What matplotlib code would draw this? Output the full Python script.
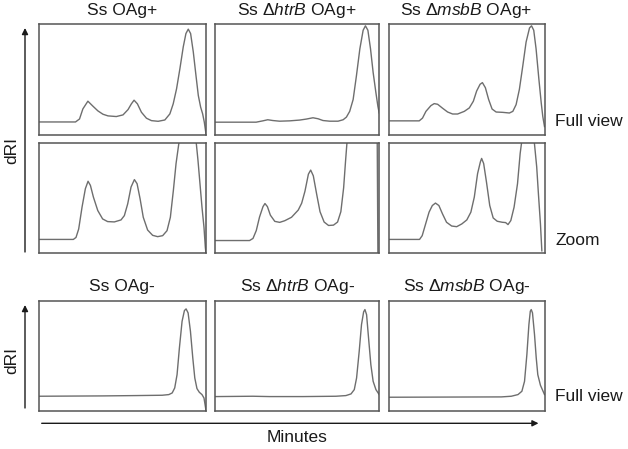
import matplotlib
matplotlib.use("Agg")
import matplotlib.pyplot as plt
from matplotlib.patches import FancyArrowPatch

plt.rcParams['font.family'] = ['Liberation Sans', 'DejaVu Sans']
plt.rcParams['mathtext.fontset'] = 'custom'
plt.rcParams['mathtext.rm'] = 'Liberation Sans'
plt.rcParams['mathtext.it'] = 'Liberation Sans:italic'

# traces: x = elution time (fraction of window), y = dRI (fraction of panel)
# OAg+ full view
ss_full_x = [0, 0.22, 0.244, 0.264, 0.294, 0.324, 0.354, 0.384, 0.414, 0.464, 0.504, 0.534, 0.554, 0.57,
             0.59, 0.614, 0.644, 0.674, 0.714, 0.754, 0.784, 0.804, 0.824, 0.844, 0.864, 0.88, 0.894,
             0.908, 0.924, 0.94, 0.954, 0.968, 0.98, 0.99, 1.0]
ss_full_y = [0.118, 0.118, 0.145, 0.236, 0.306, 0.261, 0.218, 0.188, 0.173, 0.167, 0.182, 0.23, 0.282, 0.315,
             0.282, 0.206, 0.152, 0.13, 0.124, 0.136, 0.191, 0.282, 0.418, 0.6, 0.797, 0.918, 0.958,
             0.918, 0.752, 0.539, 0.358, 0.252, 0.191, 0.115, 0.009]

htrb_full_x = [0, 0.249, 0.29, 0.32, 0.351, 0.392, 0.453, 0.514, 0.555, 0.596, 0.627, 0.657, 0.698, 0.749,
               0.78, 0.8, 0.82, 0.841, 0.861, 0.882, 0.902, 0.916, 0.931, 0.947, 0.963, 0.98, 0.992, 1.0]
htrb_full_y = [0.116, 0.116, 0.128, 0.138, 0.131, 0.125, 0.128, 0.135, 0.144, 0.156, 0.147, 0.131, 0.125, 0.125,
               0.138, 0.162, 0.214, 0.321, 0.535, 0.78, 0.948, 0.988, 0.948, 0.78, 0.566, 0.382, 0.26, 0.199]

msbb_full_x = [0, 0.197, 0.218, 0.24, 0.272, 0.293, 0.315, 0.347, 0.379, 0.411, 0.443, 0.486, 0.518, 0.544,
               0.565, 0.587, 0.602, 0.621, 0.642, 0.664, 0.69, 0.732, 0.775, 0.797, 0.818, 0.839, 0.861,
               0.882, 0.904, 0.917, 0.931, 0.946, 0.964, 0.979, 0.989, 1.0]
msbb_full_y = [0.128, 0.128, 0.153, 0.214, 0.266, 0.284, 0.278, 0.242, 0.208, 0.19, 0.19, 0.214, 0.245, 0.306,
               0.398, 0.459, 0.474, 0.428, 0.321, 0.235, 0.208, 0.205, 0.199, 0.214, 0.275, 0.413, 0.627,
               0.841, 0.969, 0.988, 0.948, 0.78, 0.505, 0.291, 0.168, 0.076]

# OAg+ zoom
ss_zoom_x = [0, 0.207, 0.223, 0.239, 0.259, 0.279, 0.295, 0.309, 0.327, 0.353, 0.382, 0.412, 0.452, 0.492,
             0.512, 0.532, 0.552, 0.572, 0.588, 0.606, 0.625, 0.651, 0.681, 0.711, 0.741, 0.767, 0.787,
             0.805, 0.821, 0.841, 0.89, 0.94, 0.952, 0.964, 0.976, 0.988, 0.996, 1.0]
ss_zoom_y = [0.127, 0.127, 0.145, 0.221, 0.418, 0.585, 0.652, 0.615, 0.509, 0.388, 0.312, 0.288, 0.285, 0.303,
             0.342, 0.448, 0.6, 0.667, 0.63, 0.494, 0.327, 0.212, 0.164, 0.152, 0.161, 0.206, 0.327,
             0.57, 0.812, 1.03, 2.4, 1.024, 0.842, 0.63, 0.418, 0.236, 0.055, 0.0]

htrb_zoom_x = [0, 0.209, 0.23, 0.25, 0.27, 0.291, 0.303, 0.318, 0.336, 0.363, 0.393, 0.424, 0.465, 0.506,
               0.527, 0.547, 0.568, 0.582, 0.598, 0.619, 0.639, 0.664, 0.691, 0.721, 0.746, 0.766, 0.783,
               0.795, 0.803, 0.807, 0.9, 0.982, 0.988, 0.992]
htrb_zoom_y = [0.117, 0.117, 0.136, 0.207, 0.33, 0.423, 0.451, 0.423, 0.346, 0.29, 0.281, 0.296, 0.327, 0.392,
               0.454, 0.562, 0.716, 0.753, 0.701, 0.531, 0.377, 0.284, 0.253, 0.256, 0.284, 0.377, 0.593,
               0.84, 0.994, 1.1, 2.2, 1.1, 0.994, 0.006]

msbb_zoom_x = [0, 0.199, 0.216, 0.238, 0.26, 0.281, 0.301, 0.323, 0.346, 0.372, 0.405, 0.437, 0.47, 0.502,
               0.528, 0.55, 0.571, 0.589, 0.597, 0.61, 0.628, 0.649, 0.671, 0.697, 0.729, 0.751, 0.766,
               0.784, 0.805, 0.827, 0.844, 0.853, 0.9, 0.935, 0.95, 0.961, 0.974, 0.983]
msbb_zoom_y = [0.127, 0.127, 0.161, 0.267, 0.373, 0.433, 0.455, 0.433, 0.358, 0.282, 0.248, 0.242, 0.267, 0.303,
               0.373, 0.509, 0.721, 0.827, 0.858, 0.812, 0.645, 0.433, 0.321, 0.291, 0.282, 0.279, 0.261,
               0.297, 0.418, 0.63, 0.903, 1.0, 2.4, 1.0, 0.782, 0.539, 0.267, 0.024]

# OAg- full view
ss_neg_x = [0, 0.381, 0.579, 0.738, 0.778, 0.798, 0.813, 0.827, 0.841, 0.857, 0.871, 0.881, 0.893, 0.907,
            0.921, 0.933, 0.946, 0.96, 0.976, 0.988, 0.996, 1.0]
ss_neg_y = [0.136, 0.139, 0.142, 0.145, 0.151, 0.166, 0.211, 0.331, 0.572, 0.813, 0.91, 0.925, 0.889, 0.723,
            0.482, 0.301, 0.205, 0.172, 0.151, 0.12, 0.045, 0.006]

htrb_neg_x = [0, 0.229, 0.331, 0.533, 0.736, 0.797, 0.828, 0.848, 0.862, 0.878, 0.892, 0.905, 0.913, 0.923,
              0.935, 0.949, 0.963, 0.98, 1.0]
htrb_neg_y = [0.133, 0.136, 0.133, 0.133, 0.136, 0.142, 0.157, 0.196, 0.301, 0.542, 0.783, 0.898, 0.919, 0.873,
              0.663, 0.422, 0.271, 0.196, 0.151]

msbb_neg_x = [0, 0.723, 0.787, 0.83, 0.855, 0.872, 0.887, 0.9, 0.909, 0.915, 0.923, 0.936, 0.947, 0.957,
              0.974, 0.989, 1.0]
msbb_neg_y = [0.127, 0.13, 0.136, 0.151, 0.181, 0.271, 0.512, 0.783, 0.904, 0.919, 0.889, 0.693, 0.482, 0.331,
              0.235, 0.187, 0.151]

titles_pos = ['Ss OAg+', r'Ss Δ$\mathit{htrB}$ OAg+', r'Ss Δ$\mathit{msbB}$ OAg+']
titles_neg = ['Ss OAg-', r'Ss Δ$\mathit{htrB}$ OAg-', r'Ss Δ$\mathit{msbB}$ OAg-']

rows = [
    [(ss_full_x, ss_full_y), (htrb_full_x, htrb_full_y), (msbb_full_x, msbb_full_y)],
    [(ss_zoom_x, ss_zoom_y), (htrb_zoom_x, htrb_zoom_y), (msbb_zoom_x, msbb_zoom_y)],
    [(ss_neg_x, ss_neg_y), (htrb_neg_x, htrb_neg_y), (msbb_neg_x, msbb_neg_y)],
]

W, H = 628, 449
fig = plt.figure(figsize=(W / 100, H / 100), dpi=100)

# panel boxes in pixels (left, right) and (top, bottom), measured from the top left
cols_px = [(38.7, 206.0), (215.3, 379.2), (388.5, 544.5)]
rows_px = [(24.5, 135.0), (142.7, 253.5), (300.6, 411.3)]


def px_axes(x0, x1, y0, y1):
    return fig.add_axes([x0 / W, 1 - y1 / H, (x1 - x0) / W, (y1 - y0) / H])


for r, row in enumerate(rows):
    for c, (xs, ys) in enumerate(row):
        ax = px_axes(cols_px[c][0], cols_px[c][1], rows_px[r][0], rows_px[r][1])
        ax.plot(xs, ys, color='#6e6e6e', lw=1.0)
        ax.set_xlim(0, 1)
        ax.set_ylim(0, 1)
        ax.set_xticks([])
        ax.set_yticks([])
        for sp in ax.spines.values():
            sp.set_color('#555555')
            sp.set_linewidth(1.1)

txt = dict(fontsize=12.5, color='#1a1a1a')
for c in range(3):
    cx = (cols_px[c][0] + cols_px[c][1]) / 2 / W
    fig.text(cx, 1 - 15.5 / H, titles_pos[c], ha='center', va='baseline', **txt)
    fig.text(cx, 1 - 291.5 / H, titles_neg[c], ha='center', va='baseline', **txt)

fig.text(555 / W, 1 - 121.5 / H, 'Full view', ha='left', va='center', **txt)
fig.text(555 / W, 1 - 240 / H, 'Zoom', ha='left', va='center', **txt)
fig.text(555 / W, 1 - 396.5 / H, 'Full view', ha='left', va='center', **txt)
fig.text(12 / W, 1 - 150.5 / H, 'dRI', rotation=90, ha='center', va='center', **txt)
fig.text(12 / W, 1 - 360 / H, 'dRI', rotation=90, ha='center', va='center', **txt)
fig.text(297 / W, 1 - 438 / H, 'Minutes', ha='center', va='center', **txt)


def arrow(x0, y0, x1, y1):
    a = FancyArrowPatch((x0 / W, 1 - y0 / H), (x1 / W, 1 - y1 / H), transform=fig.transFigure,
                        arrowstyle='-|>', mutation_scale=9, lw=1.0, color='#1a1a1a',
                        shrinkA=0, shrinkB=0)
    fig.add_artist(a)


arrow(25, 252, 25, 28)
arrow(25, 408, 25, 305)
arrow(41.7, 423.3, 538.5, 423.3)

fig.savefig('out.png', dpi=100)
